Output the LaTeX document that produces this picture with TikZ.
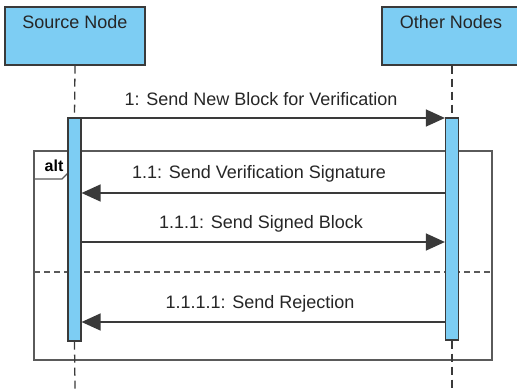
\documentclass[tikz,border=0pt]{standalone}
\usepackage{fontspec}
\setmainfont{Liberation Sans}
\usetikzlibrary{arrows.meta}
\definecolor{lblue}{HTML}{7DCDF3}
\definecolor{dline}{HTML}{3A3A3A}
\definecolor{fline}{HTML}{5A5A5A}
\tikzset{
  hdr/.style={draw=dline, line width=1.3pt, fill=lblue, minimum width=140pt, minimum height=58pt, inner sep=0pt},
  hdrtxt/.style={anchor=base, font=\fontsize{18}{20}\selectfont, text=black!85, inner sep=0pt},
  bar/.style={draw=dline, line width=1.2pt, fill=lblue, minimum width=13pt, inner sep=0pt},
  life/.style={draw=dline, line width=1.3pt, dash pattern=on 8pt off 5pt},
  msg/.style={draw=dline, line width=1.4pt, -{Triangle[length=19pt,width=17pt]}},
  msgtxt/.style={anchor=base, font=\fontsize{18}{20}\selectfont, text=black!85, inner sep=0pt},
  frame/.style={draw=fline, line width=1.2pt},
  sep/.style={draw=fline, line width=1.2pt, dash pattern=on 6pt off 4pt}
}
\begin{document}
\begin{tikzpicture}[x=1pt,y=-1pt]
\useasboundingbox (0,0) rectangle (517,389);
\fill[white] (0,0) rectangle (517,389);
% headers
\node[hdr] (src) at (75,36) {};
\node[hdrtxt] (srct) at (75,28) {Source Node};
\node[hdr] (oth) at (452,36) {};
\node[hdrtxt] (otht) at (451,28) {Other Nodes};
% coordinates
\coordinate (sbot) at (75,389);
\coordinate (obot) at (452,389);
\coordinate (m1) at (0,118);
\coordinate (m2) at (0,193);
\coordinate (m3) at (0,242);
\coordinate (m4) at (0,322);
% frame
\coordinate (fa) at (34,151);
\coordinate (fb) at (492,360);
\draw[frame] (fa) rectangle (fb);
\coordinate (t1) at (34,179);
\coordinate (t2) at (62,179);
\coordinate (t3) at (68,173);
\coordinate (t4) at (68,151);
\draw[frame] (t1) -- (t2) -- (t3) -- (t4);
\node[anchor=base, font=\bfseries\fontsize{16}{18}\selectfont, inner sep=0pt] (alt) at (54,171) {alt};
\coordinate (s1) at (34,272);
\coordinate (s2) at (492,272);
\draw[sep] (s1) -- (s2);
% activation bars
\node[bar, minimum height=223pt] (sb) at (74.5,229.5) {};
\node[bar, minimum height=222pt] (ob) at (452,229) {};
% lifelines
\draw[life] (src.south) -- (sb.north);
\draw[life] (sb.south) -- (sbot);
\draw[life] (oth.south) -- (ob.north);
\draw[life] (ob.south) -- (obot);
% messages
\draw[msg] (sb.east |- m1) -- (ob.west |- m1);
\node[msgtxt] (l1) at (261,105) {1: Send New Block for Verification};
\draw[msg] (ob.west |- m2) -- (sb.east |- m2);
\node[msgtxt] (l2) at (259,178) {1.1: Send Verification Signature};
\draw[msg] (sb.east |- m3) -- (ob.west |- m3);
\node[msgtxt] (l3) at (261,228) {1.1.1: Send Signed Block};
\draw[msg] (ob.west |- m4) -- (sb.east |- m4);
\node[msgtxt] (l4) at (260,308) {1.1.1.1: Send Rejection};
\end{tikzpicture}
\end{document}
